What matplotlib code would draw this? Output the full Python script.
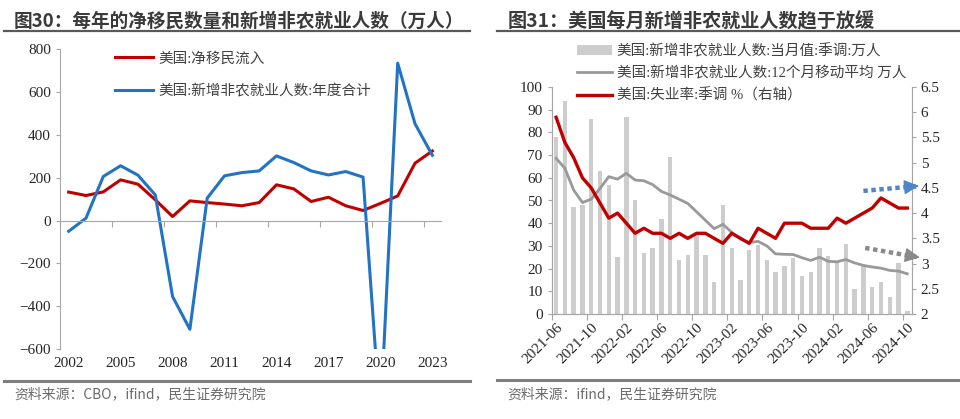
import matplotlib
matplotlib.use('Agg')
import matplotlib.pyplot as plt
from matplotlib.lines import Line2D
import numpy as np

CJK = ['Noto Sans CJK SC', 'DejaVu Sans']
SERIF_CJK = ['Liberation Serif', 'Noto Sans CJK SC', 'DejaVu Sans']
plt.rcParams['font.family'] = SERIF_CJK

# ---- left chart: annual data (万人)
years = list(range(2002, 2024))
net_migration = [133, 117, 134, 190, 170, 97, 19, 92, 84, 77, 69, 84, 167, 148, 89, 109, 69, 47, 80, 115, 268, 325]
payroll_annual = [-50, 11, 206, 256, 212, 120, -355, -508, 105, 209, 224, 232, 302, 271, 232, 213, 229, 203, -930, 735, 452, 305]
year_labels = ['2002', '2005', '2008', '2011', '2014', '2017', '2020', '2023']

# ---- right chart: monthly data 2021-06 .. 2024-10
months = ['2021-06', '2021-07', '2021-08', '2021-09', '2021-10', '2021-11', '2021-12',
          '2022-01', '2022-02', '2022-03', '2022-04', '2022-05', '2022-06', '2022-07',
          '2022-08', '2022-09', '2022-10', '2022-11', '2022-12', '2023-01', '2023-02',
          '2023-03', '2023-04', '2023-05', '2023-06', '2023-07', '2023-08', '2023-09',
          '2023-10', '2023-11', '2023-12', '2024-01', '2024-02', '2024-03', '2024-04',
          '2024-05', '2024-06', '2024-07', '2024-08', '2024-09', '2024-10']
payroll_monthly = [78, 94, 47, 48, 86, 63, 57, 25, 87, 50, 27, 29, 42, 69, 24, 26, 35, 26, 14, 48,
                   29, 15, 28, 30.5, 24, 18.5, 21, 24.5, 16.7, 18.3, 29, 25.7, 23, 31, 10.8,
                   21, 11.7, 14.3, 7.7, 22.4, 1.5]
payroll_ma12 = [68.6, 64.2, 54.6, 49.1, 50.6, 55.3, 60.5, 59.4, 62, 59, 58.7, 57, 54, 52.4, 50.6,
                48.7, 45, 41.3, 37.6, 39.5, 36, 33, 31.5, 32, 30, 26.5, 26.3, 26.2, 24.8, 23.6,
                25, 23.2, 23, 24, 22.5, 21.4, 20.7, 20.2, 19.2, 18.9, 17.7]
unemployment = [5.9, 5.4, 5.1, 4.7, 4.5, 4.2, 3.9, 4.0, 3.8, 3.6, 3.7, 3.6, 3.6, 3.5, 3.6, 3.5,
                3.6, 3.6, 3.5, 3.4, 3.6, 3.5, 3.4, 3.7, 3.6, 3.5, 3.8, 3.8, 3.8, 3.7, 3.7, 3.7,
                3.9, 3.8, 3.9, 4.0, 4.1, 4.3, 4.2, 4.1, 4.1]
# trend arrows (month index, right-axis value)
arrow_up_x = [35.0, 41.3]
arrow_up_y = [4.44, 4.54]
arrow_down_x = [35.2, 41.4]
arrow_down_y = [3.31, 3.12]

RED = '#c00000'
BLUE = '#2273c3'
BAR = '#cdcdcd'
GRAYLINE = '#999999'
AXIS = '#a6a6a6'
TXT = '#262626'

W, H = 960, 419
fig = plt.figure(figsize=(W / 100, H / 100), dpi=100)


def px(x0, y_top, x1, y_bot):
    return [x0 / W, 1 - y_bot / H, (x1 - x0) / W, (y_bot - y_top) / H]


def hline(x0, x1, y, lw, color):
    fig.add_artist(Line2D([x0 / W, x1 / W], [1 - y / H, 1 - y / H], lw=lw, color=color,
                          transform=fig.transFigure))


# titles, rules and sources
fig.text(14 / W, 1 - 21 / H, '图30：每年的净移民数量和新增非农就业人数（万人）', fontsize=13.4,
         fontweight='bold', color='#3a3a3a', va='center', ha='left', family=CJK)
fig.text(508 / W, 1 - 21 / H, '图31：美国每月新增非农就业人数趋于放缓', fontsize=13.8,
         fontweight='bold', color='#3a3a3a', va='center', ha='left', family=CJK)
hline(4, 470, 31, 1.6, '#595959')
hline(497, 960, 31, 1.6, '#595959')
hline(4, 470, 381, 2.2, '#7f7f7f')
hline(497, 960, 380, 2.2, '#7f7f7f')
fig.text(14 / W, 1 - 394 / H, '资料来源：CBO，ifind，民生证券研究院', fontsize=10, color='#6b6b6b',
         va='center', ha='left', family=CJK)
fig.text(507 / W, 1 - 394 / H, '资料来源：ifind，民生证券研究院', fontsize=10, color='#6b6b6b',
         va='center', ha='left', family=CJK)

# ---------------- left chart
ax = fig.add_axes(px(60, 49.3, 441, 349))
xi = np.arange(len(years))
ax.plot(xi, net_migration, color=RED, lw=2.2, label='美国:净移民流入')
ax.plot(xi, payroll_annual, color=BLUE, lw=2.2, label='美国:新增非农就业人数:年度合计')
ax.set_xlim(-0.5, len(years) - 0.5)
ax.set_ylim(-600, 800)
ax.set_yticks(range(-600, 801, 200))
for s in ['top', 'right']:
    ax.spines[s].set_visible(False)
ax.spines['left'].set_color(AXIS)
ax.spines['bottom'].set_color(AXIS)
ax.spines['bottom'].set_position(('data', 0))
ax.set_xticks(np.arange(-0.5, len(years), 3))
ax.tick_params(axis='x', length=4, color=AXIS, labelbottom=False)
ax.tick_params(axis='y', length=3, color=AXIS, labelsize=11, labelcolor=TXT)
sec = ax.secondary_xaxis(0.0)
sec.set_xticks([years.index(int(y)) for y in year_labels], year_labels)
sec.tick_params(length=0, labelsize=11, labelcolor=TXT, pad=6)
sec.spines['bottom'].set_visible(False)
leg = ax.legend(loc='upper left', bbox_to_anchor=(115 / W, 1 - 52 / H), bbox_transform=fig.transFigure,
                frameon=False, prop={'size': 10.5}, handlelength=2.6,
                handletextpad=0.35, labelspacing=1.3, borderpad=0, borderaxespad=0)
for t in leg.get_texts():
    t.set_color('#404040')

# ---------------- right chart
ax2 = fig.add_axes(px(551.7, 87, 911.7, 314))
mi = np.arange(len(months))
b = ax2.bar(mi, payroll_monthly, width=0.5, color=BAR, label='美国:新增非农就业人数:当月值:季调:万人')
l1, = ax2.plot(mi, payroll_ma12, color=GRAYLINE, lw=2, label='美国:新增非农就业人数:12个月移动平均 万人')
ax2.set_xlim(-0.5, len(months) - 0.5)
ax2.set_ylim(0, 100)
ax2.set_yticks(range(0, 101, 10))
ax3 = ax2.twinx()
l2, = ax3.plot(mi, unemployment, color=RED, lw=2.4, label='美国:失业率:季调 %（右轴）')
ax3.set_ylim(2, 6.5)
ax3.set_yticks(np.arange(2, 6.51, 0.5))
ax3.set_yticklabels(['{:g}'.format(v) for v in np.arange(2, 6.51, 0.5)])
for a in (ax2, ax3):
    a.spines['top'].set_visible(False)
    for s in ['left', 'right', 'bottom']:
        a.spines[s].set_color(AXIS)
ax2.set_xticks(np.arange(-0.5, len(months), 4))
ax2.set_xticks(np.arange(0, len(months), 4), [months[i] for i in range(0, len(months), 4)], minor=True)
ax2.tick_params(axis='x', which='major', length=4, color=AXIS, labelbottom=False)
ax2.tick_params(axis='x', which='minor', length=0, labelsize=11, labelcolor=TXT, pad=5)
for t in ax2.get_xticklabels(minor=True):
    t.set_rotation(45)
    t.set_ha('right')
    t.set_rotation_mode('anchor')
ax2.tick_params(axis='y', length=3, color=AXIS, labelsize=11, labelcolor=TXT)
ax3.tick_params(axis='y', length=3, color=AXIS, labelsize=11, labelcolor=TXT)

# dotted trend arrows
for xs, ys, c in [(arrow_up_x, arrow_up_y, '#4a86c8'), (arrow_down_x, arrow_down_y, '#8a8a8a')]:
    ax3.plot(xs, ys, color=c, lw=3.2, ls=(0, (1, 0.8)), clip_on=False)
    ax3.annotate('', xy=(xs[1], ys[1]), xytext=(xs[1] - 0.5, ys[1] - (ys[1] - ys[0]) * 0.5 / (xs[1] - xs[0])),
                 arrowprops=dict(arrowstyle='-|>,head_length=0.9,head_width=0.45', color=c, lw=1),
                 annotation_clip=False)

leg2 = ax3.legend([b, l1, l2], [b.get_label(), l1.get_label(), l2.get_label()], loc='upper left',
                  bbox_to_anchor=(576.7 / W, 1 - 44 / H), bbox_transform=fig.transFigure,
                  frameon=False, prop={'size': 10.5}, handlelength=2.4,
                  handletextpad=0.35, labelspacing=0.55, borderpad=0, borderaxespad=0)
for t in leg2.get_texts():
    t.set_color('#404040')

fig.savefig('out.png', dpi=100)
plt.close(fig)
